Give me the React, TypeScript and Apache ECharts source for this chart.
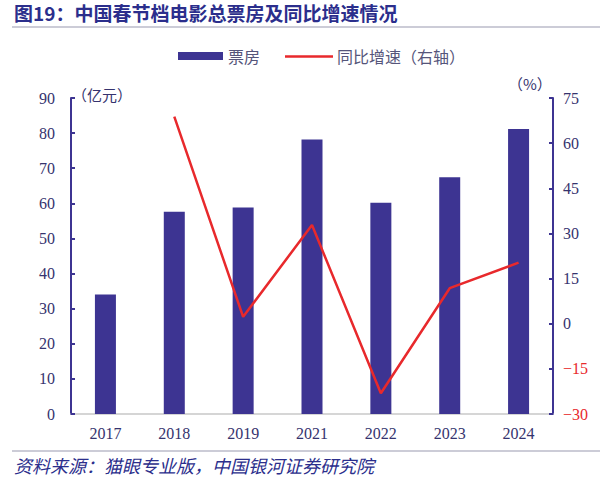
import React, { useEffect, useRef } from "react";
import * as echarts from "echarts";

const categories = ["2017", "2018", "2019", "2021", "2022", "2023", "2024"];
const boxOffice = [34.0, 57.6, 58.8, 78.2, 60.2, 67.4, 81.2];
const growth = [null, 68.8, 2.3, 32.8, -23.1, 11.8, 20.3];
const leftTicks = { min: 0, max: 90, interval: 10 };
const rightTicks = { min: -30, max: 75, interval: 15 };

const NAVY = "#3D3492";
const TEXT = "#35336E";
const TITLE = "#2B2E8C";
const RED = "#E8292C";
const SERIF = "'Liberation Serif', 'Noto Sans CJK SC', serif";
const CJK = "'Noto Sans CJK SC', sans-serif";

export default function App() {
  const ref = useRef<HTMLDivElement>(null);
  useEffect(() => {
    const chart = echarts.init(ref.current!, undefined, { renderer: "svg" });
    chart.setOption({
      animation: false,
      backgroundColor: "#fff",
      graphic: [
        {
          type: "text",
          left: 14,
          top: 3,
          style: {
            text: "图19：中国春节档电影总票房及同比增速情况",
            font: `bold 19px ${CJK}`,
            fill: TITLE,
          },
        },
        {
          type: "line",
          shape: { x1: 12, y1: 27, x2: 600, y2: 27 },
          style: { stroke: "#9A9AB0", lineWidth: 1.2 },
        },
        {
          type: "line",
          shape: { x1: 12, y1: 451, x2: 600, y2: 451 },
          style: { stroke: "#9A9AB0", lineWidth: 1.2 },
        },
        {
          type: "text",
          left: 14,
          top: 456,
          style: {
            text: "资料来源：猫眼专业版，中国银河证券研究院",
            font: `italic 18px ${CJK}`,
            fill: TITLE,
          },
        },
        {
          type: "text",
          left: 72,
          top: 87,
          style: { text: "（亿元）", font: `15px ${CJK}`, fill: TEXT },
        },
        {
          type: "text",
          left: 508,
          top: 76,
          style: { text: "（%）", font: `15px ${CJK}`, fill: TEXT },
        },
        // legend
        {
          type: "rect",
          shape: { x: 178, y: 52, width: 45, height: 8 },
          style: { fill: NAVY },
        },
        {
          type: "text",
          x: 228,
          y: 56,
          style: {
            text: "票房",
            font: `16px ${CJK}`,
            fill: "#55557A",
            verticalAlign: "middle",
          },
        },
        {
          type: "line",
          shape: { x1: 285, y1: 56.5, x2: 333, y2: 56.5 },
          style: { stroke: RED, lineWidth: 2.5 },
        },
        {
          type: "text",
          x: 337,
          y: 56,
          style: {
            text: "同比增速（右轴）",
            font: `16px ${CJK}`,
            fill: "#55557A",
            verticalAlign: "middle",
          },
        },
      ],
      grid: { left: 71, right: 51, top: 98, bottom: 66, containLabel: false },
      xAxis: {
        type: "category",
        data: categories,
        axisLine: { lineStyle: { color: "#C8C8C8", width: 1.5 } },
        axisTick: { show: false },
        axisLabel: { color: TEXT, fontFamily: SERIF, fontSize: 16, margin: 11 },
      },
      yAxis: [
        {
          type: "value",
          ...leftTicks,
          position: "left",
          splitLine: { show: false },
          axisLine: { show: true, lineStyle: { color: NAVY, width: 2 } },
          axisTick: { show: true, inside: true, length: 4, lineStyle: { color: NAVY, width: 2 } },
          axisLabel: { color: TEXT, fontFamily: SERIF, fontSize: 16, margin: 16 },
        },
        {
          type: "value",
          ...rightTicks,
          position: "right",
          splitLine: { show: false },
          axisLine: { show: true, lineStyle: { color: NAVY, width: 2 } },
          axisTick: { show: true, inside: true, length: 4, lineStyle: { color: NAVY, width: 2 } },
          axisLabel: {
            fontFamily: SERIF,
            fontSize: 16,
            margin: 10,
            color: TEXT,
            formatter: (v: number) =>
              v < 0 ? "{neg|\u2212" + Math.abs(v) + "}" : "{pos|" + v + "}",
            rich: {
              neg: { color: RED, fontFamily: SERIF, fontSize: 16 },
              pos: { color: TEXT, fontFamily: SERIF, fontSize: 16 },
            },
          },
        },
      ],
      series: [
        {
          name: "票房",
          type: "bar",
          data: boxOffice,
          barWidth: 21,
          itemStyle: { color: NAVY },
        },
        {
          name: "同比增速（右轴）",
          type: "line",
          yAxisIndex: 1,
          data: growth,
          symbol: "none",
          lineStyle: { color: RED, width: 2.5 },
          itemStyle: { color: RED },
        },
      ],
    });
    return () => chart.dispose();
  }, []);
  return (
    <div
      ref={ref}
      style={{ position: "absolute", left: 0, top: 0, width: 604, height: 480 }}
    />
  );
}
